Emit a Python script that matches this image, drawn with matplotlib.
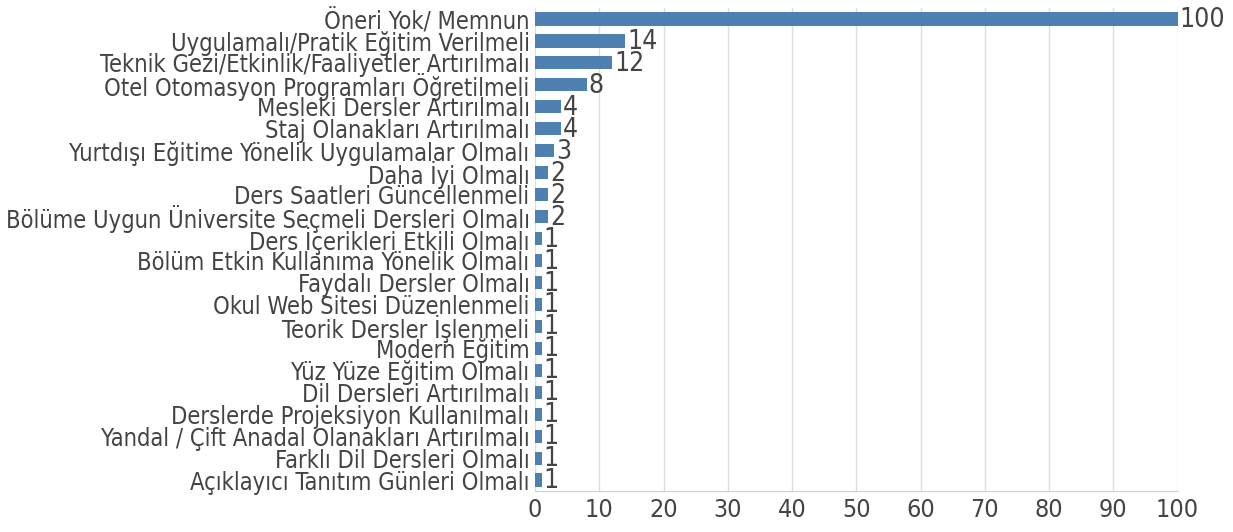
import matplotlib
matplotlib.use("Agg")
import matplotlib.pyplot as plt

categories = [
    "Öneri Yok/ Memnun",
    "Uygulamalı/Pratik Eğitim Verilmeli",
    "Teknik Gezi/Etkinlik/Faaliyetler Artırılmalı",
    "Otel Otomasyon Programları Öğretilmeli",
    "Mesleki Dersler Artırılmalı",
    "Staj Olanakları Artırılmalı",
    "Yurtdışı Eğitime Yönelik Uygulamalar Olmalı",
    "Daha İyi Olmalı",
    "Ders Saatleri Güncellenmeli",
    "Bölüme Uygun Üniversite Seçmeli Dersleri Olmalı",
    "Ders İçerikleri Etkili Olmalı",
    "Bölüm Etkin Kullanıma Yönelik Olmalı",
    "Faydalı Dersler Olmalı",
    "Okul Web Sitesi Düzenlenmeli",
    "Teorik Dersler İşlenmeli",
    "Modern Eğitim",
    "Yüz Yüze Eğitim Olmalı",
    "Dil Dersleri Artırılmalı",
    "Derslerde Projeksiyon Kullanılmalı",
    "Yandal / Çift Anadal Olanakları Artırılmalı",
    "Farklı Dil Dersleri Olmalı",
    "Açıklayıcı Tanıtım Günleri Olmalı",
]
values = [100, 14, 12, 8, 4, 4, 3, 2, 2, 2, 1, 1, 1, 1, 1, 1, 1, 1, 1, 1, 1, 1]
xticks = list(range(0, 101, 10))

plt.rcParams['font.family'] = ['DejaVu Sans']
plt.rcParams['font.stretch'] = 'condensed'

text_color = "#444444"
bar_color = "#4e81b1"

fig, ax = plt.subplots(figsize=(12.33, 5.32), dpi=100)
fig.subplots_adjust(left=0.434, right=0.955, top=0.985, bottom=0.077)

y = list(range(len(categories)))
ax.barh(y, values, height=0.6, color=bar_color, zorder=3)
for yi, v in zip(y, values):
    ax.text(v + 0.3, yi + 0.05, str(v), va="center", ha="left", fontsize=19,
            color=text_color, zorder=4)

ax.set_yticks(y)
ax.set_yticklabels(categories, fontsize=17, color=text_color)
ax.set_ylim(len(categories) - 0.5, -0.5)
ax.set_xlim(0, 100)
ax.set_xticks(xticks)
ax.tick_params(axis="x", labelsize=18, labelcolor=text_color, length=0, pad=5)
ax.tick_params(axis="y", length=0, pad=4)
ax.grid(axis="x", color="#dddddd", linewidth=1, zorder=0)
for s in ["top", "right", "left"]:
    ax.spines[s].set_visible(False)
ax.spines["bottom"].set_color("#d0d0d0")

fig.savefig("out.png", dpi=100)
